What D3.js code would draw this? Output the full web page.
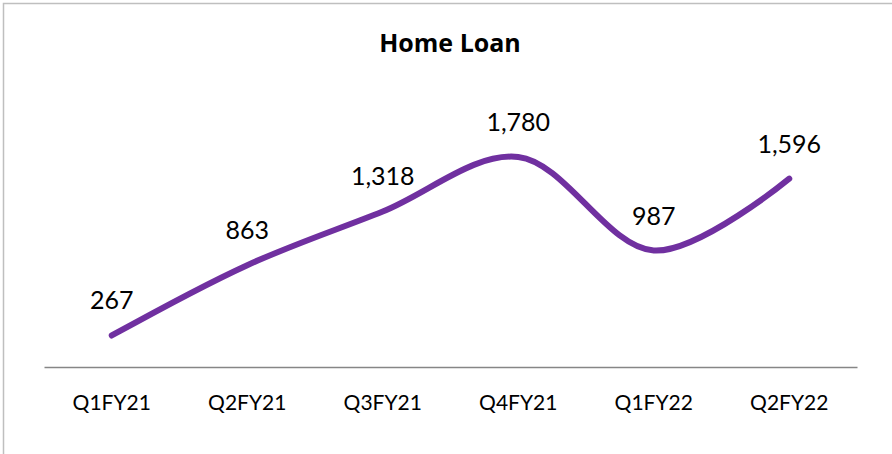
<!DOCTYPE html>
<html>
<head>
<meta charset="utf-8">
<script src="https://cdn.jsdelivr.net/npm/d3@7"></script>
<style>
  body { margin: 0; background: #fff; }
  .lbl { font-family: Lato, "Open Sans", sans-serif; fill: #000; }
</style>
</head>
<body>
<div id="chart"></div>
<script>
// data
var quarters = ["Q1FY21", "Q2FY21", "Q3FY21", "Q4FY21", "Q1FY22", "Q2FY22"];
var loans = [267, 863, 1318, 1780, 987, 1596];

var svgWidth = 892, svgHeight = 454;

var svg = d3.select("#chart").append("svg")
  .attr("width", svgWidth)
  .attr("height", svgHeight);

// chart frame
svg.append("rect")
  .attr("x", 3.5).attr("y", 3.5)
  .attr("width", 900).attr("height", 460)
  .attr("fill", "#fff")
  .attr("stroke", "#bfbfbf")
  .attr("stroke-width", 1.5);

var xScale = d3.scaleBand().domain(quarters).range([44, 857]);
var yScale = d3.scaleLinear().domain([0, 2000]).range([367, 131]);

// title
svg.append("text")
  .attr("x", 450).attr("y", 52)
  .attr("text-anchor", "middle")
  .style("font-family", "'Open Sans', sans-serif")
  .style("font-size", "25px")
  .style("font-weight", "bold")
  .text("Home Loan");

// category axis
var bottomAxis = d3.axisBottom(xScale).tickSize(0).tickPadding(28);
var xg = svg.append("g")
  .attr("transform", "translate(0,367)")
  .call(bottomAxis);
xg.select(".domain").attr("stroke", "#868686").attr("stroke-width", 1.5);
xg.selectAll("text")
  .attr("class", "lbl")
  .style("font-size", "21px");

var pts = quarters.map(function(q, i) {
  return [xScale(q) + xScale.bandwidth() / 2, yScale(loans[i])];
});

var line = d3.line().curve(d3.curveCatmullRom.alpha(0.5));

svg.append("path")
  .attr("d", line(pts))
  .attr("fill", "none")
  .attr("stroke", "#7030a0")
  .attr("stroke-width", 6)
  .attr("stroke-linecap", "round");

// data labels
svg.selectAll(".val")
  .data(loans)
  .enter()
  .append("text")
  .attr("class", "lbl val")
  .attr("x", function(d, i) { return xScale(quarters[i]) + xScale.bandwidth() / 2; })
  .attr("y", function(d) { return yScale(d) - 26; })
  .attr("text-anchor", "middle")
  .style("font-size", "25px")
  .text(function(d) { return d3.format(",")(d); });
</script>
</body>
</html>
